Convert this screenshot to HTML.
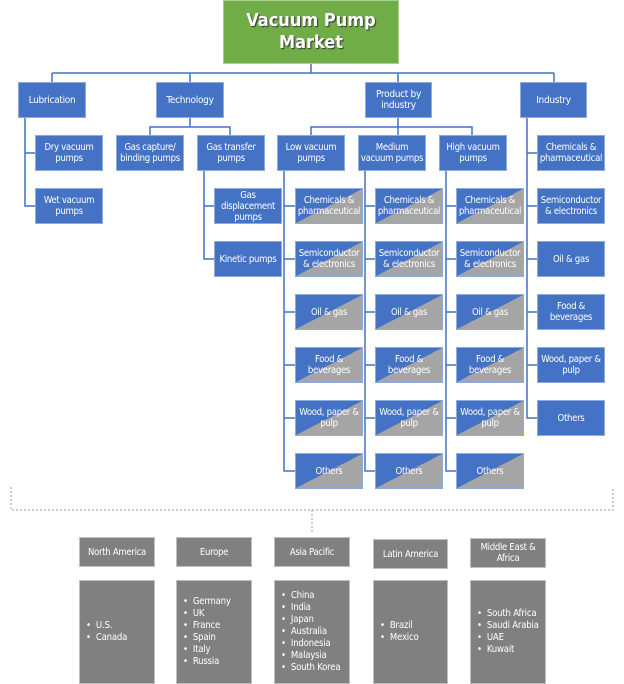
<!DOCTYPE html>
<html><head><meta charset="utf-8">
<style>
body{margin:0;width:624px;height:684px;background:#fff;position:relative;overflow:hidden;font-family:"DejaVu Sans Condensed","Liberation Sans Narrow","Liberation Sans",sans-serif;}
.b{position:absolute;box-sizing:border-box;border:1px solid #8FAADC;background:#4472C4;color:#fff;font-size:9.5px;line-height:11px;display:flex;align-items:center;justify-content:center;text-align:center;letter-spacing:-0.3px;}
.d{background:linear-gradient(to bottom right,#4472C4 50%,#A5A5A5 50%);}
.g{position:absolute;box-sizing:border-box;background:#808080;border:1px solid #bfbfbf;color:#fff;font-size:9.5px;line-height:11px;display:flex;align-items:center;justify-content:center;text-align:center;letter-spacing:-0.3px;}
.l{position:absolute;box-sizing:border-box;background:#808080;border:1px solid #bfbfbf;color:#fff;font-size:9.5px;line-height:12px;display:flex;align-items:center;padding-left:6px;letter-spacing:-0.2px;}
.l div{white-space:pre;}
svg{position:absolute;left:0;top:0;}
</style></head><body>
<svg width="624" height="684">
<g stroke="#4472C4" stroke-width="1.5" fill="none">
<path d="M311 64V73M52 73H554M52 73V82M190 73V82M398 73V82M554 73V82"/>
<path d="M25 118V206H35M25 153H35"/>
<path d="M190 118V127H150V135M190 127H230V135"/>
<path d="M204 171V259H214M204 206H214"/>
<path d="M398 118V127H311V135M398 127H472V135M398 127V135"/>
<path d="M284 171V471H295M284 206H295M284 259H295M284 312H295M284 365H295M284 418H295"/>
<path d="M365 171V471H375M365 206H375M365 259H375M365 312H375M365 365H375M365 418H375"/>
<path d="M446 171V471H456M446 206H456M446 259H456M446 312H456M446 365H456M446 418H456"/>
<path d="M527 118V418H537M527 153H537M527 206H537M527 259H537M527 312H537M527 365H537"/>
</g>
<path d="M11 487V510H613V487M312 510V532" stroke="#999" stroke-dasharray="2,2" fill="none"/>
</svg>
<div class="b" style="left:223px;top:0;width:176px;height:64px;background:#70AD47;border-color:#A9D18E;font-size:18px;line-height:22px;font-weight:bold;text-shadow:1px 1px 1px #333;letter-spacing:0">Vacuum Pump<br>Market</div>
<div class="b" style="left:18px;top:82px;width:68px;height:36px;font-size:10px">Lubrication</div>
<div class="b" style="left:156px;top:82px;width:68px;height:36px;font-size:10px">Technology</div>
<div class="b" style="left:365px;top:82px;width:67px;height:36px;font-size:10px">Product by<br>industry</div>
<div class="b" style="left:520px;top:82px;width:67px;height:36px;font-size:10px">Industry</div>
<div class="b" style="left:35px;top:135px;width:68px;height:36px">Dry vacuum<br>pumps</div>
<div class="b" style="left:35px;top:188px;width:68px;height:36px">Wet vacuum<br>pumps</div>
<div class="b" style="left:116px;top:135px;width:68px;height:36px">Gas capture/<br>binding pumps</div>
<div class="b" style="left:197px;top:135px;width:68px;height:36px">Gas transfer<br>pumps</div>
<div class="b" style="left:214px;top:188px;width:68px;height:36px">Gas<br>displacement<br>pumps</div>
<div class="b" style="left:214px;top:241px;width:68px;height:36px">Kinetic pumps</div>
<div class="b" style="left:277px;top:135px;width:68px;height:36px">Low vacuum<br>pumps</div>
<div class="b" style="left:358px;top:135px;width:68px;height:36px">Medium<br>vacuum pumps</div>
<div class="b" style="left:439px;top:135px;width:68px;height:36px">High vacuum<br>pumps</div>

<div class="b d" style="left:295px;top:188px;width:68px;height:36px">Chemicals &amp;<br>pharmaceutical</div>
<div class="b d" style="left:295px;top:241px;width:68px;height:36px">Semiconductor<br>&amp; electronics</div>
<div class="b d" style="left:295px;top:294px;width:68px;height:36px">Oil &amp; gas</div>
<div class="b d" style="left:295px;top:347px;width:68px;height:36px">Food &amp;<br>beverages</div>
<div class="b d" style="left:295px;top:400px;width:68px;height:36px">Wood, paper &amp;<br>pulp</div>
<div class="b d" style="left:295px;top:453px;width:68px;height:36px">Others</div>

<div class="b d" style="left:375px;top:188px;width:68px;height:36px">Chemicals &amp;<br>pharmaceutical</div>
<div class="b d" style="left:375px;top:241px;width:68px;height:36px">Semiconductor<br>&amp; electronics</div>
<div class="b d" style="left:375px;top:294px;width:68px;height:36px">Oil &amp; gas</div>
<div class="b d" style="left:375px;top:347px;width:68px;height:36px">Food &amp;<br>beverages</div>
<div class="b d" style="left:375px;top:400px;width:68px;height:36px">Wood, paper &amp;<br>pulp</div>
<div class="b d" style="left:375px;top:453px;width:68px;height:36px">Others</div>

<div class="b d" style="left:456px;top:188px;width:68px;height:36px">Chemicals &amp;<br>pharmaceutical</div>
<div class="b d" style="left:456px;top:241px;width:68px;height:36px">Semiconductor<br>&amp; electronics</div>
<div class="b d" style="left:456px;top:294px;width:68px;height:36px">Oil &amp; gas</div>
<div class="b d" style="left:456px;top:347px;width:68px;height:36px">Food &amp;<br>beverages</div>
<div class="b d" style="left:456px;top:400px;width:68px;height:36px">Wood, paper &amp;<br>pulp</div>
<div class="b d" style="left:456px;top:453px;width:68px;height:36px">Others</div>

<div class="b" style="left:537px;top:135px;width:68px;height:36px">Chemicals &amp;<br>pharmaceutical</div>
<div class="b" style="left:537px;top:188px;width:68px;height:36px">Semiconductor<br>&amp; electronics</div>
<div class="b" style="left:537px;top:241px;width:68px;height:36px">Oil &amp; gas</div>
<div class="b" style="left:537px;top:294px;width:68px;height:36px">Food &amp;<br>beverages</div>
<div class="b" style="left:537px;top:347px;width:68px;height:36px">Wood, paper &amp;<br>pulp</div>
<div class="b" style="left:537px;top:400px;width:68px;height:36px">Others</div>

<div class="g" style="left:79px;top:537px;width:76px;height:30px">North America</div>
<div class="g" style="left:176px;top:537px;width:76px;height:30px">Europe</div>
<div class="g" style="left:274px;top:537px;width:76px;height:30px">Asia Pacific</div>
<div class="g" style="left:373px;top:539px;width:75px;height:30px">Latin America</div>
<div class="g" style="left:470px;top:538px;width:76px;height:30px">Middle East &amp;<br>Africa</div>

<div class="l" style="left:79px;top:580px;width:76px;height:104px"><div>•  U.S.
•  Canada</div></div>
<div class="l" style="left:176px;top:580px;width:76px;height:104px"><div>•  Germany
•  UK
•  France
•  Spain
•  Italy
•  Russia</div></div>
<div class="l" style="left:274px;top:580px;width:76px;height:104px"><div>•  China
•  India
•  Japan
•  Australia
•  Indonesia
•  Malaysia
•  South Korea</div></div>
<div class="l" style="left:373px;top:580px;width:75px;height:104px"><div>•  Brazil
•  Mexico</div></div>
<div class="l" style="left:470px;top:580px;width:76px;height:104px"><div>•  South Africa
•  Saudi Arabia
•  UAE
•  Kuwait</div></div>
</body></html>
